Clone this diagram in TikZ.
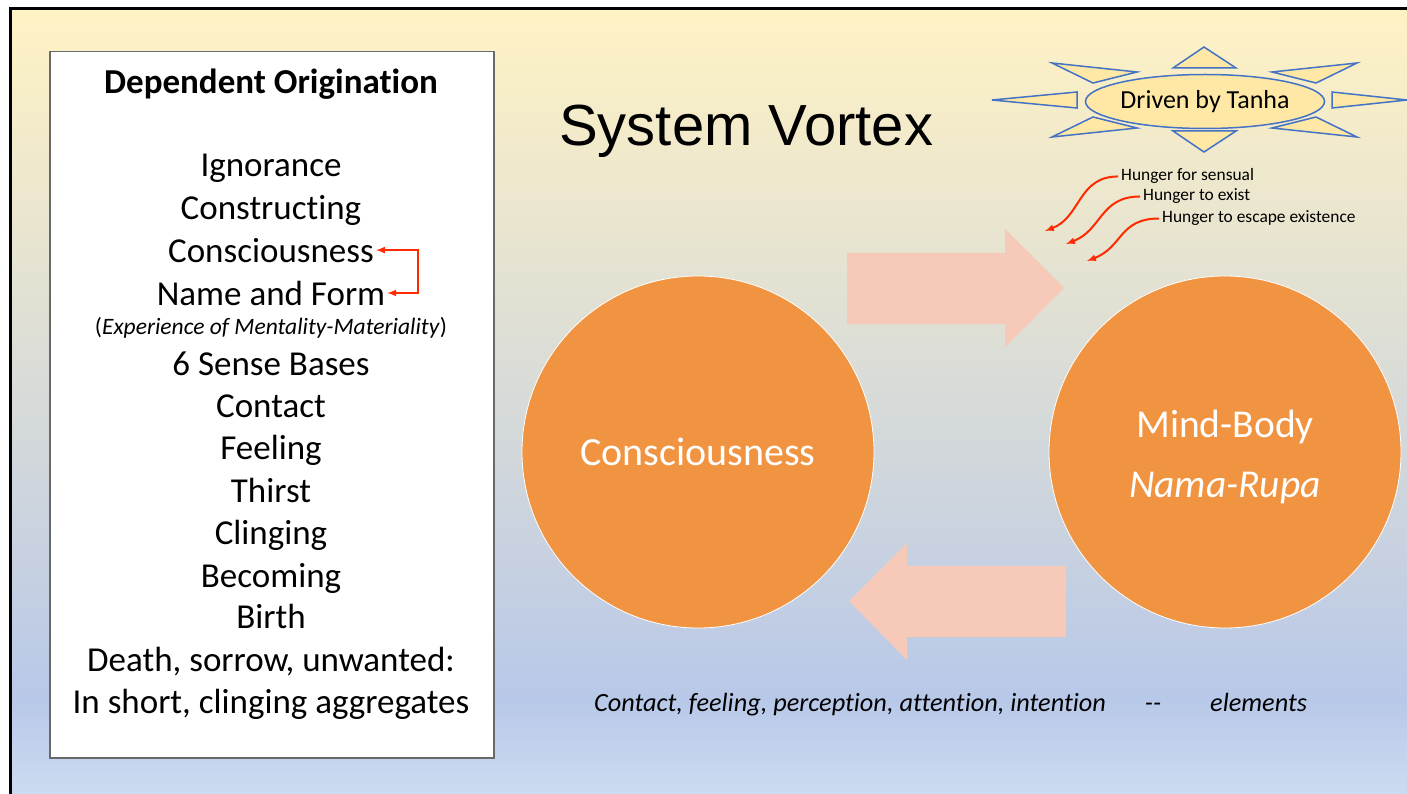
\documentclass[tikz,border=0pt]{standalone}
\usepackage{fontspec}
\setmainfont{Carlito}[Ligatures=NoCommon]
\newfontfamily\arialfont{Liberation Sans}
\usetikzlibrary{shapes.geometric,positioning}

\definecolor{bgyellow}{RGB}{255,242,196}
\definecolor{bgblue}{RGB}{184,200,232}
\definecolor{bglight}{RGB}{205,219,241}
\definecolor{vortexorange}{RGB}{241,148,66}
\definecolor{flowpink}{RGB}{246,201,185}
\definecolor{sunblue}{RGB}{68,114,196}
\definecolor{sunfill}{RGB}{255,232,165}
\definecolor{hungerred}{RGB}{255,42,0}
\definecolor{boxgray}{RGB}{105,105,105}

\tikzset{
	listitem/.style={anchor=base, inner sep=2pt, font=\fontsize{35}{42}\selectfont},
	hunger/.style={anchor=base west, inner sep=3pt, font=\fontsize{17.4}{21}\selectfont},
	hungerarrow/.style={->, hungerred, line width=2},
	sunray/.style={draw=sunblue, fill=sunfill, line width=1.5},
	orb/.style={circle, fill=vortexorange, draw=white, line width=0.8, minimum size=352,
		inner sep=0, text=white},
	flow/.style={fill=flowpink},
	note/.style={anchor=base west, inner sep=0, font=\fontsize{26.3}{30}\selectfont\itshape},
}

\begin{document}
\begin{tikzpicture}[x=1pt,y=-1pt,>=latex]
\useasboundingbox (0,0) rectangle (1407,794);

%Background and frame
\shade[top color=bgyellow, bottom color=bgblue] (10,9) rectangle (1407,700.5);
\shade[top color=bgblue, bottom color=bglight] (10,700) rectangle (1407,794);
\draw[line width=3] (10,794) -- (10,9) -- (1407,9);

%Dependent Origination list
\node[draw=boxgray, line width=1.5, fill=white, minimum width=444, minimum height=706,
inner sep=0, anchor=north west] (dobox) at (49,51) {};
\node[listitem, font=\bfseries\fontsize{35}{42}\selectfont] (dotitle) at (271,94) {Dependent Origination};
\foreach \y/\name/\txt in {177/ign/Ignorance, 220/constr/Constructing, 262/cons/Consciousness,
	305/nmf/Name and Form, 375/sense/6 Sense Bases, 417/contact/Contact, 459/feel/Feeling,
	502/thirst/Thirst, 544/cling/Clinging, 587/becom/Becoming, 628/birth/Birth,
	671/death/{Death, sorrow, unwanted:}, 713/short/{In short, clinging aggregates}}
	\node[listitem] (\name) at (271,\y) {\txt};
\node[listitem, font=\fontsize{23.5}{28}\selectfont] (exper) at (271,334)
	{(\textit{Experience of Mentality-Materiality})};

%Consciousness to Name and Form
\coordinate (brk) at (418,270);
\draw[<->, hungerred, line width=2] (cons.east) -| (brk) |- (nmf.east);

%Title
\node[anchor=base west, inner sep=0, font=\arialfont\fontsize{58}{70}\selectfont] (vortex)
	at (559,146) {System Vortex};

%Tanha sun
\foreach \ax/\ay/\bx/\by/\cx/\cy in {1204/47/1173/68/1236/68, 1204/152/1173/131/1236/131,
	992/100/1077/92/1077/108, 1407/100/1332/92/1332/108,
	1052/63/1137/72/1093/83, 1357/63/1272/72/1316/83,
	1052/137/1137/128/1093/117, 1357/137/1272/128/1316/117}
	\draw[sunray] (\ax,\ay) -- (\bx,\by) -- (\cx,\cy) -- cycle;
\node[ellipse, draw=sunblue, fill=sunfill, line width=1.5, minimum width=214, minimum height=54,
inner sep=0, font=\fontsize{26}{30}\selectfont] (tanha) at (1205,101.5) {Driven by Tanha};

%Hungers
\node[hunger] (h1) at (1118,181) {Hunger for sensual};
\node[hunger] (h2) at (1140,201) {Hunger to exist};
\node[hunger] (h3) at (1159,223) {Hunger to escape existence};
\coordinate (t1) at (1045,231);
\coordinate (t2) at (1066,244);
\coordinate (t3) at (1087,261);
\draw[hungerarrow] (h1.west) .. controls +(-40,0) and +(36,-14) .. (t1);
\draw[hungerarrow] (h2.west) .. controls +(-40,0) and +(36,-14) .. (t2);
\draw[hungerarrow] (h3.west) .. controls +(-40,0) and +(36,-14) .. (t3);

%Flow arrows
\fill[flow] (847,253) -- (1005,253) -- (1005,229) -- (1064,288) -- (1005,347)
	-- (1005,324) -- (847,324) -- cycle;
\fill[flow] (1066,566) -- (907,566) -- (907,543) -- (849,601) -- (907,660)
	-- (907,637) -- (1066,637) -- cycle;

%Circles
\node[orb, font=\fontsize{40}{48}\selectfont] (consc) at (698,452) {Consciousness};
\node[orb] (mindbody) at (1225,452) {};
\node[text=white, align=center, font=\fontsize{39.5}{60}\selectfont] (mbtext) at (1225,457)
	{Mind-Body\\\textit{Nama-Rupa}};

%Elements
\node[note] (elemlist) at (594,711) {Contact, feeling, perception, attention, intention};
\node[note, anchor=base] (sep) at (1153,711) {-{}-};
\node[note] (elem) at (1210,711) {elements};

\end{tikzpicture}
\end{document}
